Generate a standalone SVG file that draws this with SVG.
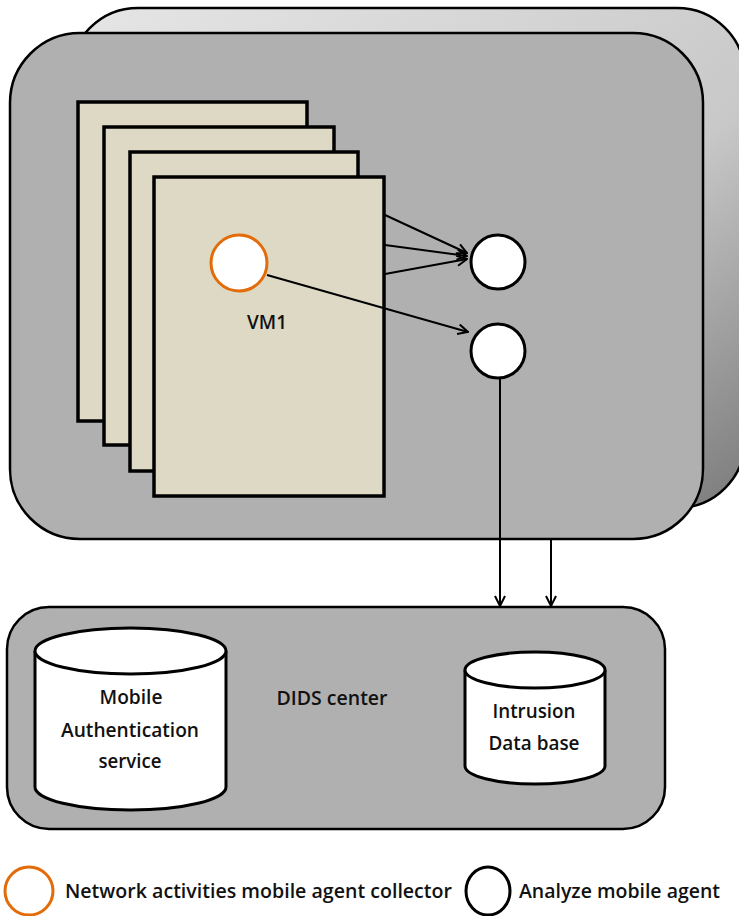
<svg xmlns="http://www.w3.org/2000/svg" width="739" height="916" viewBox="0 0 739 916">
<defs>
<style>
.box{fill:#b0b0b0;stroke:#000;stroke-width:2.5}
.vm{fill:#ddd9c4;stroke:#000;stroke-width:3.5}
.ag{fill:#fff;stroke:#000;stroke-width:3}
.col{fill:#fff;stroke:#e36c0a;stroke-width:3}
.cyl{fill:#fff;stroke:#000;stroke-width:3}
.t{font-family:"Open Sans","Liberation Sans",sans-serif;font-size:19px;font-weight:600;fill:#111;text-anchor:middle}
.lt{font-family:"Open Sans","Liberation Sans",sans-serif;font-size:19px;font-weight:600;fill:#111}
.ln{fill:none;stroke:#000;stroke-width:2}
</style>
<linearGradient id="bg" x1="0" y1="0" x2="1" y2="1">
<stop offset="0" stop-color="#e6e6e6"/>
<stop offset="0.6" stop-color="#c8c8c8"/>
<stop offset="1" stop-color="#7a7a7a"/>
</linearGradient>
<marker id="ah" viewBox="0 0 12 12" refX="11" refY="6" markerWidth="12" markerHeight="12" markerUnits="userSpaceOnUse" orient="auto">
<path d="M1,1 L11,6 L1,11" fill="none" stroke="#000" stroke-width="2"/>
</marker>
</defs>
<rect width="739" height="916" fill="#fff"/>
<g id="host-back"><rect x="70" y="8" width="675" height="500" rx="68" fill="url(#bg)" stroke="#000" stroke-width="2.5"/></g>
<g id="host"><rect x="10" y="33" width="693" height="506" rx="70" class="box"/></g>
<g id="vm4"><rect x="78" y="102" width="229" height="319" class="vm"/></g>
<g id="vm3"><rect x="104" y="127" width="230" height="318" class="vm"/></g>
<g id="vm2"><rect x="130" y="152" width="228" height="319" class="vm"/></g>
<g id="vm1"><rect x="154" y="177" width="230" height="319" class="vm"/>
<text x="267" y="329" class="t" textLength="40" lengthAdjust="spacingAndGlyphs">VM1</text></g>
<g id="collector"><circle cx="239" cy="263" r="28" class="col"/></g>
<g id="analyzer1"><circle cx="498" cy="262" r="27" class="ag"/></g>
<g id="analyzer2"><circle cx="498" cy="351" r="27" class="ag"/></g>
<g id="dids"><rect x="7" y="607" width="658" height="222" rx="42" class="box"/>
<text x="332" y="705" class="t" textLength="111" lengthAdjust="spacingAndGlyphs">DIDS center</text></g>
<g id="auth">
<path d="M35,651 L35,787 A95.5,23 0 0 0 226,787 L226,651" class="cyl"/>
<ellipse cx="130.5" cy="651" rx="95.5" ry="23" class="cyl"/>
<text x="131" y="704" class="t" textLength="63" lengthAdjust="spacingAndGlyphs">Mobile</text>
<text x="130" y="737" class="t" textLength="138" lengthAdjust="spacingAndGlyphs">Authentication</text>
<text x="130" y="768" class="t" textLength="63" lengthAdjust="spacingAndGlyphs">service</text>
</g>
<g id="intrusion">
<path d="M465,670 L465,766 A70,18 0 0 0 605,766 L605,670" class="cyl"/>
<ellipse cx="535" cy="670" rx="70" ry="18" class="cyl"/>
<text x="534" y="718" class="t" textLength="83" lengthAdjust="spacingAndGlyphs">Intrusion</text>
<text x="534" y="750" class="t" textLength="91" lengthAdjust="spacingAndGlyphs">Data base</text>
</g>
<g id="connectors">
<line x1="385" y1="215" x2="467" y2="253" class="ln" marker-end="url(#ah)"/>
<line x1="385" y1="245" x2="467" y2="256" class="ln" marker-end="url(#ah)"/>
<line x1="385" y1="274" x2="467" y2="259" class="ln" marker-end="url(#ah)"/>
<line x1="267" y1="275" x2="468" y2="332" class="ln" marker-end="url(#ah)"/>
<line x1="500" y1="378" x2="500" y2="606" class="ln" marker-end="url(#ah)"/>
<line x1="551" y1="539" x2="551" y2="606" class="ln" marker-end="url(#ah)"/>
</g>
<g id="legend">
<ellipse cx="29" cy="891" rx="24" ry="24" class="col"/>
<text x="65" y="898" class="lt" textLength="387" lengthAdjust="spacingAndGlyphs">Network activities mobile agent collector</text>
<ellipse cx="488" cy="891" rx="22" ry="24" class="ag"/>
<text x="519" y="898" class="lt" textLength="201" lengthAdjust="spacingAndGlyphs">Analyze mobile agent</text>
</g>
</svg>
